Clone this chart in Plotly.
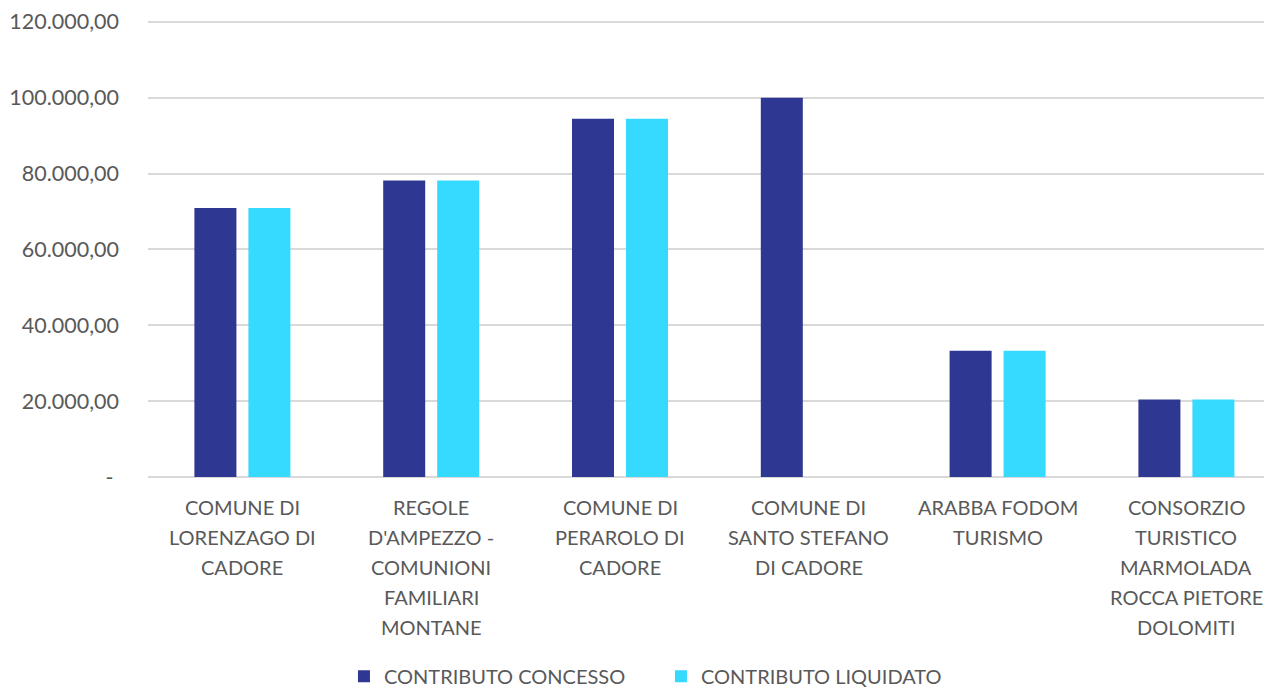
import plotly.graph_objects as go

categories = [
    "COMUNE DI<br>LORENZAGO DI<br>CADORE",
    "REGOLE<br>D'AMPEZZO -<br>COMUNIONI<br>FAMILIARI<br>MONTANE",
    "COMUNE DI<br>PERAROLO DI<br>CADORE",
    "COMUNE DI<br>SANTO STEFANO<br>DI CADORE",
    "ARABBA FODOM<br>TURISMO",
    "CONSORZIO<br>TURISTICO<br>MARMOLADA<br>ROCCA PIETORE<br>DOLOMITI",
]
concesso = [70900, 78150, 94450, 100000, 33300, 20400]
liquidato = [70900, 78150, 94450, None, 33300, 20400]
series_names = ["CONTRIBUTO CONCESSO", "CONTRIBUTO LIQUIDATO"]
y_tickvals = [0, 20000, 40000, 60000, 80000, 100000, 120000]
y_ticktext = ["-\u00a0", "20.000,00", "40.000,00", "60.000,00", "80.000,00", "100.000,00", "120.000,00"]

FONT = "Lato"
GREY = "#595959"

fig = go.Figure()
fig.add_trace(go.Bar(x=categories, y=concesso, name=series_names[0],
                     marker=dict(color="#2E3791", line=dict(width=0))))
fig.add_trace(go.Bar(x=categories, y=liquidato, name=series_names[1],
                     marker=dict(color="#36DAFF", line=dict(width=0))))

# category labels, one line per annotation (30 px line pitch)
annotations = []
for cat in categories:
    for j, line in enumerate(cat.split("<br>")):
        annotations.append(dict(
            x=cat, xref="x", y=0, yref="y", text=line, showarrow=False,
            xanchor="center", yanchor="middle", yshift=-(30 + 30 * j),
            font=dict(family=FONT, size=20, color=GREY)))

fig.update_layout(
    width=1264, height=687,
    margin=dict(l=148, r=0, t=18, b=210, autoexpand=False),
    paper_bgcolor="white", plot_bgcolor="white",
    barmode="group", bargap=0.428, bargroupgap=0.222,
    font=dict(family=FONT, color=GREY, size=20),
    showlegend=True,
    legend=dict(orientation="h", x=0.1756, xanchor="left", y=-0.434, yanchor="middle",
                font=dict(family=FONT, size=20, color=GREY), traceorder="normal",
                entrywidth=272, entrywidthmode="pixels"),
    annotations=annotations,
    xaxis=dict(range=[-0.5, -0.5 + 1116 / 188.8], showgrid=False, showline=False,
               ticks="", showticklabels=False, automargin=False),
    yaxis=dict(range=[0, 121000], tickvals=y_tickvals, ticktext=y_ticktext,
               showgrid=True, gridcolor="#D9D9D9", gridwidth=1.5,
               zeroline=True, zerolinecolor="#D9D9D9", zerolinewidth=1.5,
               showline=False, ticks="", ticklabelstandoff=28, automargin=False,
               tickfont=dict(family=FONT, size=21.5, color=GREY)),
)

fig.write_html("out.html", config={"displayModeBar": False},
               post_script="document.body.style.margin='0px';document.body.style.overflow='hidden';")
